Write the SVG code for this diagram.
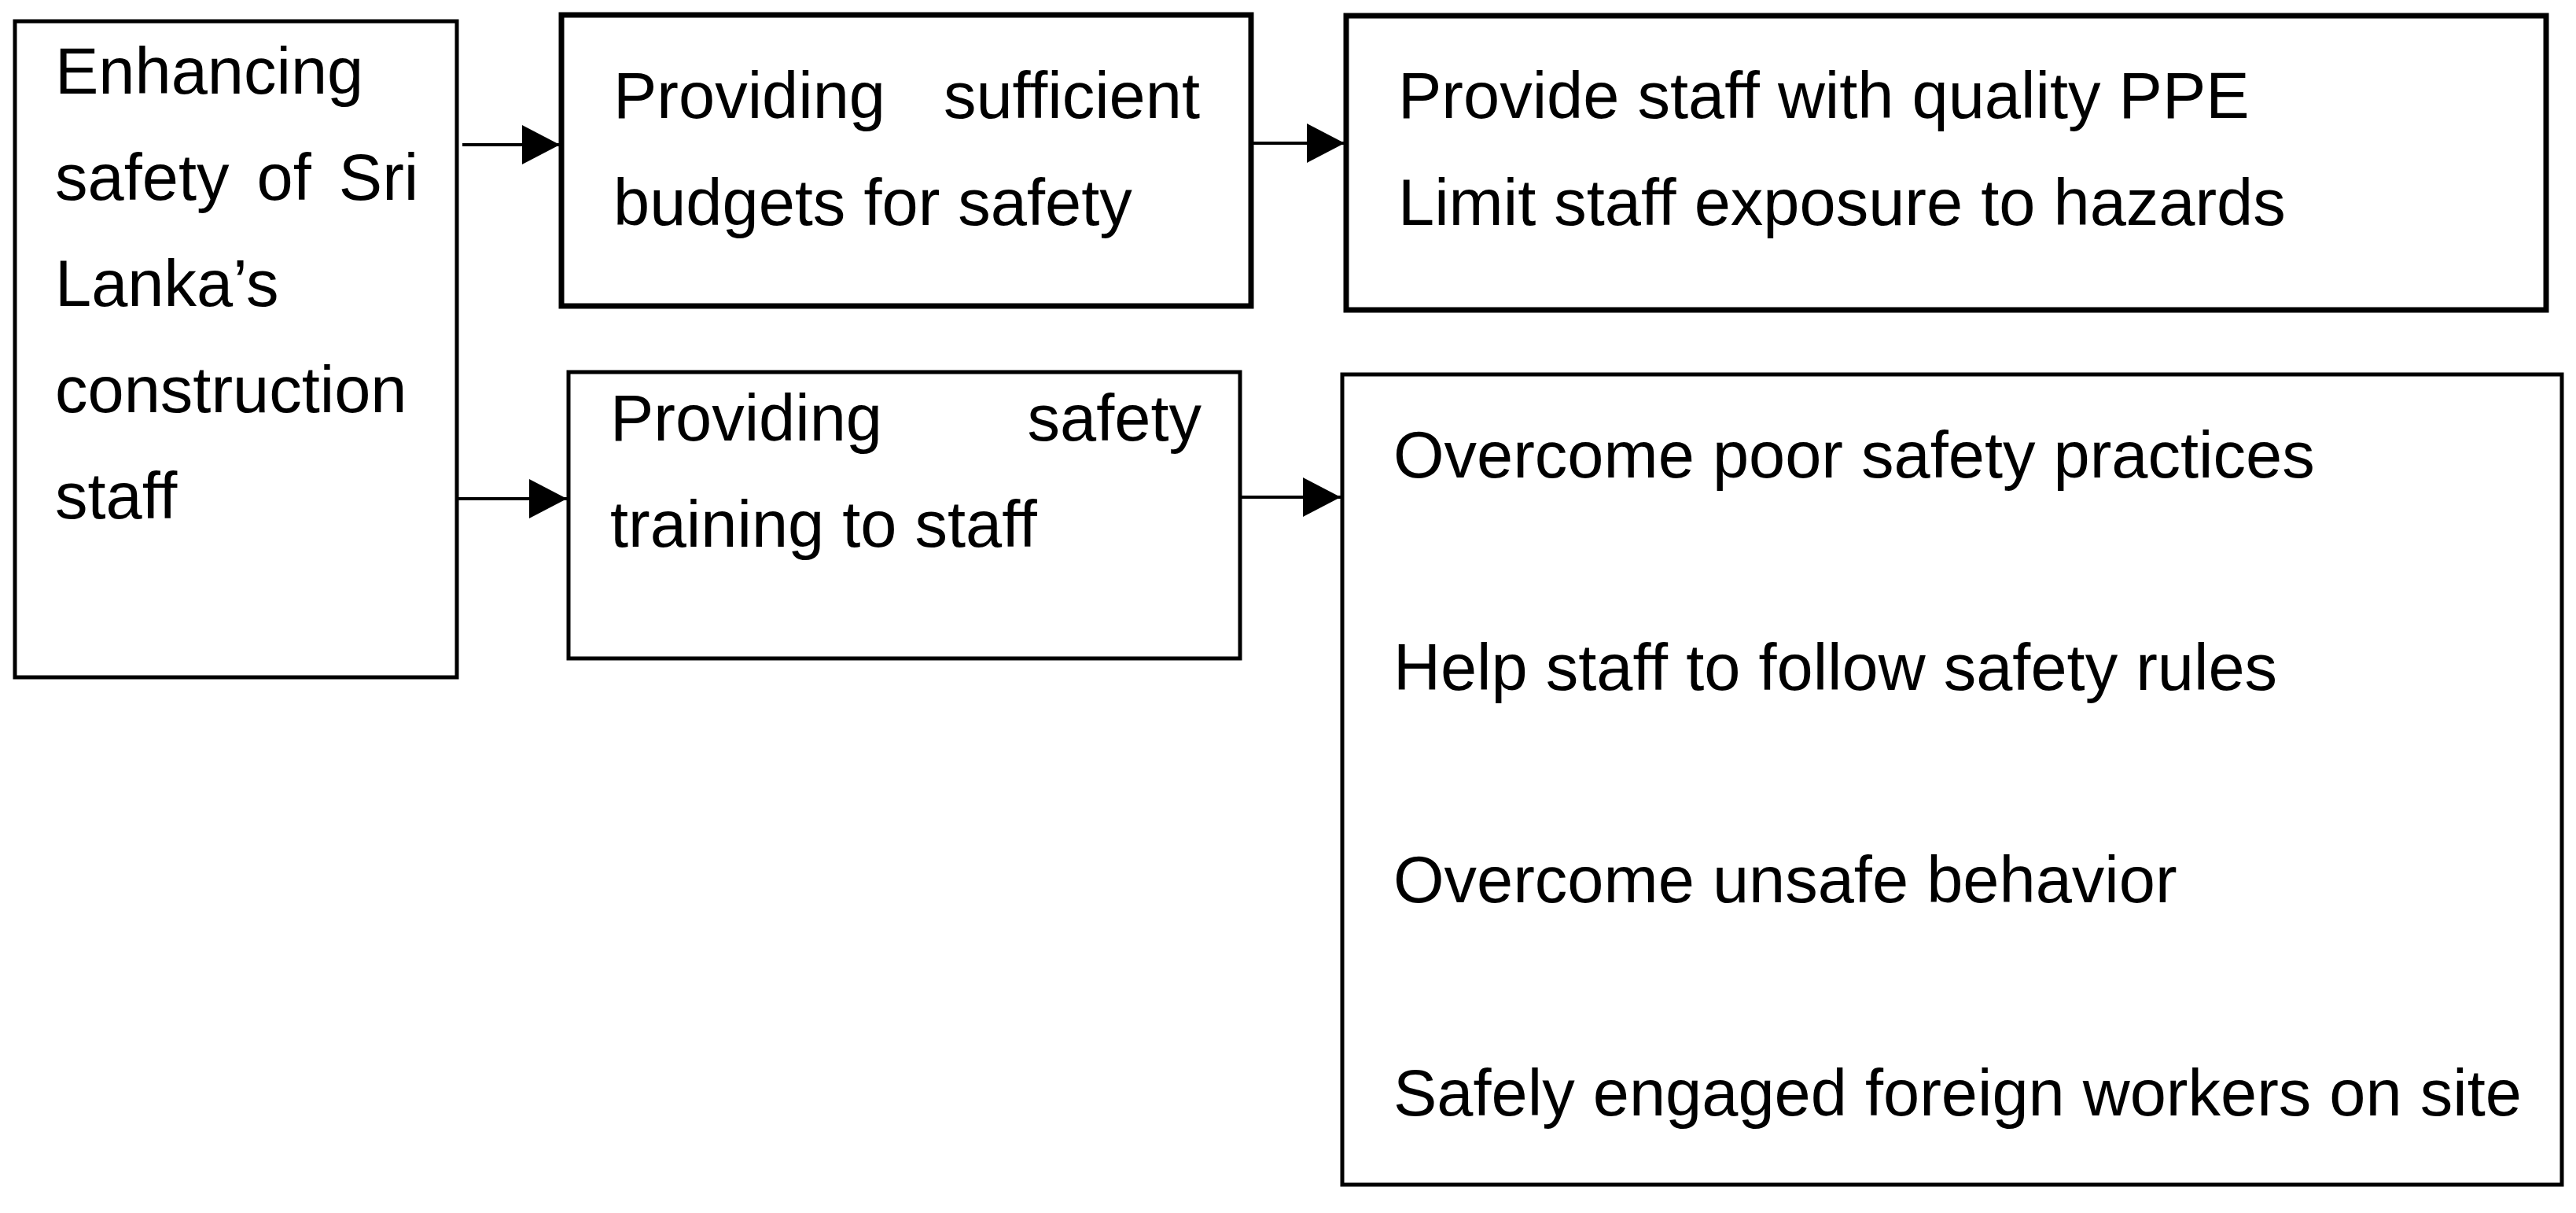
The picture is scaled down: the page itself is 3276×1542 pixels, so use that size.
<svg xmlns="http://www.w3.org/2000/svg" width="3276" height="1542" viewBox="0 0 3276 1542">
<style>
  .box { fill: #ffffff; stroke: #000000; }
  .thin { stroke-width: 5; }
  .thick { stroke-width: 7; }
  .t { font-family: "Liberation Sans", Arial, sans-serif; font-size: 83px; fill: #000000; }
  .conn { stroke: #000000; stroke-width: 4; fill: none; }
</style>
<defs>
  <marker id="arrow" markerUnits="userSpaceOnUse" markerWidth="48" markerHeight="50" refX="48" refY="25" orient="auto">
    <path d="M0,0 L48,25 L0,50 Z" fill="#000000"/>
  </marker>
</defs>
<rect x="0" y="0" width="3276" height="1542" fill="#ffffff"/>

<g id="node-enhancing">
  <rect class="box thin" x="19" y="27" width="562" height="834"/>
  <text class="t" x="70" y="119">Enhancing</text>
  <text class="t" x="70" y="254" word-spacing="12">safety of Sri</text>
  <text class="t" x="70" y="389">Lanka’s</text>
  <text class="t" x="70" y="524">construction</text>
  <text class="t" x="70" y="659">staff</text>
</g>

<g id="node-budgets">
  <rect class="box thick" x="714" y="19" width="877" height="370"/>
  <text class="t" x="780" y="150">Providing</text>
  <text class="t" x="1526" y="150" text-anchor="end">sufficient</text>
  <text class="t" x="780" y="286">budgets for safety</text>
</g>

<g id="node-ppe">
  <rect class="box thick" x="1712" y="20" width="1526" height="374"/>
  <text class="t" x="1778" y="150">Provide staff with quality PPE</text>
  <text class="t" x="1778" y="286">Limit staff exposure to hazards</text>
</g>

<g id="node-training">
  <rect class="box thin" x="723" y="473" width="854" height="364"/>
  <text class="t" x="776" y="560">Providing</text>
  <text class="t" x="1528" y="560" text-anchor="end">safety</text>
  <text class="t" x="776" y="695">training to staff</text>
</g>

<g id="node-outcomes">
  <rect class="box thin" x="1707" y="476" width="1551" height="1030"/>
  <text class="t" x="1772" y="607">Overcome poor safety practices</text>
  <text class="t" x="1772" y="877">Help staff to follow safety rules</text>
  <text class="t" x="1772" y="1147">Overcome unsafe behavior</text>
  <text class="t" x="1772" y="1418">Safely engaged foreign workers on site</text>
</g>

<g id="connectors">
  <line class="conn" x1="588" y1="184" x2="712" y2="184" marker-end="url(#arrow)"/>
  <line class="conn" x1="581" y1="634" x2="721" y2="634" marker-end="url(#arrow)"/>
  <line class="conn" x1="1592" y1="182" x2="1710" y2="182" marker-end="url(#arrow)"/>
  <line class="conn" x1="1577" y1="632" x2="1705" y2="632" marker-end="url(#arrow)"/>
</g>
</svg>
